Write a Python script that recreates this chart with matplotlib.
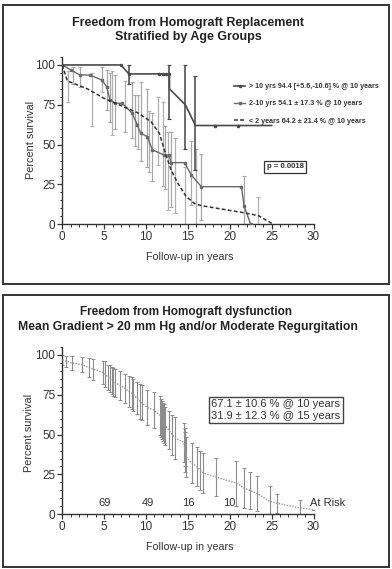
import numpy as np
import matplotlib
matplotlib.use("Agg")
import matplotlib.pyplot as plt
from matplotlib.patches import Rectangle
from matplotlib.ticker import MultipleLocator

plt.rcParams["font.family"] = ["Liberation Sans", "DejaVu Sans"]

# ---------- top panel: freedom from replacement by age group ----------
old_x = [0, 7.0, 7.95, 12.8, 12.8, 14.7, 15.9, 25.0]
old_y = [100, 100, 94.4, 94.4, 85, 75, 62, 62]
old_cens_x = [11.6, 12.0, 12.4, 18.2, 21.0]
old_cens_y = [94.4, 94.4, 94.4, 62, 62]
old_err_x = [7.95, 12.8, 14.7, 15.9]
old_err_lo = [88, 66, 47, 34]
old_err_hi = [100, 100, 100, 93]

mid_x = [0, 1.0, 2.1, 3.3, 4.7, 5.3, 5.7, 6.3, 7.15, 8.35, 8.96, 9.36, 10.16,
         10.76, 12.17, 12.77, 12.97, 14.6, 15.4, 16.6, 21.4, 21.7, 22.5]
mid_y = [100, 97, 93.7, 93.7, 90.6, 86.4, 78, 76, 76, 69.7, 62.3, 57.1, 55,
         46.7, 43.5, 43.5, 38.7, 38.7, 31, 23.6, 23.6, 11.7, 0]
mid_err_x = [1.3, 2.1, 4.7, 5.3, 5.7, 6.3, 8.35, 8.7, 9.36, 10.16, 10.76, 12.3,
             13.0, 15.4, 16.6, 21.7]
mid_err_lo = [88, 86, 83, 72, 64, 60, 54, 49, 40, 36, 27, 22, 11, 12, 3, 0]
mid_err_hi = [99, 99, 99, 97, 95, 94, 89.5, 81, 89.5, 85, 70, 62, 58, 52, 44, 30]

young_x = [0, 0.6, 3.0, 5.0, 7.0, 9.0, 10.6, 11.6, 12.2, 13.0, 13.8, 14.8,
           15.8, 16.6, 19.0, 21.4, 23.4, 25.2]
young_y = [100, 90, 85, 79, 74.5, 70, 64.4, 57, 46.6, 34, 25.7, 17.4, 13,
           11.7, 9.6, 7.5, 5.5, 0]
young_err_x = [0.7, 3.5, 5.9, 7.5, 9.0, 10.4, 11.4, 12.0, 12.6, 13.4, 14.6,
               16.0, 23.4]
young_err_lo = [77, 62, 56, 58, 47, 33, 37, 24, 9, 7, 0, 0, 0]
young_err_hi = [96, 95, 96, 90, 81, 71, 80, 77, 58, 54, 36, 47, 17]

legend_labels = ["> 10 yrs 94.4 [+5.6,-10.6] % @ 10 years",
                 "2-10 yrs 54.1 \u00b1 17.3 % @ 10 years",
                 "< 2 years 64.2 \u00b1 21.4 % @ 10 years"]
p_text = "p = 0.0018"

# ---------- bottom panel: freedom from dysfunction ----------
dys_x = [0, 0.5, 1.1, 2.3, 3.2, 3.7, 4.9, 5.1, 5.5, 5.7, 5.9, 6.1, 6.3, 6.9,
         7.5, 8.0, 8.3, 8.5, 8.9, 9.3, 9.5, 10.1, 10.9, 11.7, 11.8, 11.9, 12.0,
         12.1, 12.3, 12.7, 13.1, 13.5, 14.5, 14.6, 14.7, 14.8, 15.5, 16.1, 16.5,
         16.8, 18.3, 20.8, 21.7, 22.4, 23.3, 24.8, 25.6, 28.4, 30]
dys_y = [97, 96, 95, 94, 92, 91, 89, 88, 86, 85, 84, 83, 82.5, 81, 79, 77, 76,
         75, 73, 71, 70, 67.1, 65.5, 62, 60.5, 59, 58, 57, 55.5, 53, 50, 48, 45,
         42, 39, 36, 32, 30, 27.5, 26, 23.5, 19.5, 16.5, 15, 13, 8, 7, 4, 3]
dys_err = [3, 3.5, 4.5, 5, 6, 6.5, 7.5, 8, 8, 8.5, 8.5, 9, 9, 9, 9, 9.5, 10,
           10, 10, 11, 11, 11, 11.5, 12, 12, 12, 12, 12, 12, 12, 12.5, 13, 12,
           12, 12.5, 12.5, 12.5, 12.5, 12.5, 12.5, 12, 14, 12.5, 11.5, 11, 10,
           6, 5, 0]
risk_x = [5.0, 10.2, 15.0, 20.0]
risk_n = ["69", "49", "16", "10"]
box_text = "67.1 \u00b1 10.6 % @ 10 years\n31.9 \u00b1 12.3 % @ 15 years"

W, H = 392, 569
fig = plt.figure(figsize=(W / 100, H / 100), dpi=100)


def px_rect(x0, y0, x1, y1):
    return [x0 / W, 1 - y1 / H, (x1 - x0) / W, (y1 - y0) / H]


def style_axis(ax):
    for s in ["top", "right"]:
        ax.spines[s].set_visible(False)
    for s in ["left", "bottom"]:
        ax.spines[s].set_color("#333333")
        ax.spines[s].set_linewidth(1.0)
    ax.set_xlim(0, 30)
    ax.set_ylim(0, 105)
    ax.spines["left"].set_bounds(0, 105)
    ax.set_xticks(range(0, 31, 5))
    ax.set_yticks([0, 25, 50, 75, 100])
    ax.xaxis.set_minor_locator(MultipleLocator(1))
    ax.yaxis.set_minor_locator(MultipleLocator(5))
    ax.tick_params(which="major", length=3.5, width=0.9, labelsize=8.5,
                   colors="#333333", pad=1.5)
    ax.tick_params(which="minor", length=1.8, width=0.7, colors="#333333")
    ax.patch.set_alpha(0)


def bars(ax, x, lo, hi, color, lw=0.9):
    ax.vlines(x, lo, hi, color=color, lw=lw, zorder=2)
    ax.plot(x, lo, ls="none", marker="_", ms=3, mew=0.8, color=color, zorder=2)
    ax.plot(x, hi, ls="none", marker="_", ms=3, mew=0.8, color=color, zorder=2)


# panel frames
fig.patches.append(Rectangle((3 / W, 1 - 284 / H), 386 / W, 279 / H,
                             transform=fig.transFigure, fill=False,
                             ec="#333333", lw=1.4))
fig.patches.append(Rectangle((3 / W, 1 - 567 / H), 386 / W, 272 / H,
                             transform=fig.transFigure, fill=False,
                             ec="#333333", lw=1.4))

# ---------- top ----------
ax1 = fig.add_axes(px_rect(62.3, 57, 313.5, 224.3))
style_axis(ax1)
bars(ax1, young_err_x, young_err_lo, young_err_hi, "#b0b0b0")
bars(ax1, mid_err_x, mid_err_lo, mid_err_hi, "#a8a8a8")
bars(ax1, old_err_x, old_err_lo, old_err_hi, "#444444", lw=1.1)
l1, = ax1.plot(old_x, old_y, color="#4a4a4a", lw=1.2, zorder=4,
               marker="o", ms=1.5, markevery=[1, 2, 3])
ax1.plot(old_cens_x, old_cens_y, ls="none", marker="o", ms=1.6,
         color="#4a4a4a", zorder=4)
l2, = ax1.plot(mid_x, mid_y, color="#6a6a6a", lw=1.0, marker="s", ms=1.8,
               zorder=3)
l3, = ax1.plot(young_x, young_y, color="#333333", lw=1.1, ls=(0, (2.5, 1.5)),
               zorder=3)
leg = ax1.legend([l1, l2, l3], legend_labels, loc="center right",
                 bbox_to_anchor=(1.285, 0.72), frameon=False, handlelength=1.6,
                 handletextpad=0.5, labelspacing=1.45,
                 prop={"size": 5.1, "weight": "bold"})
for t in leg.get_texts():
    t.set_color("#333333")
ax1.text(26.6, 36, p_text, fontsize=5.6, fontweight="bold", color="#333333",
         ha="center", va="center",
         bbox=dict(boxstyle="square,pad=0.3", fc="white", ec="#333333", lw=0.9))
fig.text(188 / W, 1 - 30 / H, "Freedom from Homograft Replacement\nStratified by Age Groups",
         ha="center", va="center", fontsize=9, fontweight="bold",
         color="#222222", linespacing=1.2)
fig.text(31 / W, 1 - 140 / H, "Percent survival", rotation=90, ha="center",
         va="center", fontsize=7.8, color="#333333")
fig.text(190 / W, 1 - 257 / H, "Follow-up in years", ha="center", va="center",
         fontsize=7.7, color="#333333")

# ---------- bottom ----------
ax2 = fig.add_axes(px_rect(62.3, 347, 313.5, 514.3))
style_axis(ax2)
dys_y_arr = np.array(dys_y)
dys_err_arr = np.array(dys_err)
ax2.errorbar(dys_x, dys_y_arr, yerr=dys_err_arr, fmt="none", ecolor="#8c8c8c",
             elinewidth=0.8, capsize=1.5, capthick=0.7, zorder=2)
ax2.plot(dys_x, dys_y, color="#9a9a9a", lw=1.0, ls=(0, (1, 1)), zorder=3)
for x, n in zip(risk_x, risk_n):
    ax2.text(x, 7, n, ha="center", va="center", fontsize=8, color="#333333")
ax2.text(29.6, 7, "At Risk", ha="left", va="center", fontsize=8,
         color="#333333", clip_on=False)
ax2.text(17.8, 65.5, box_text, ha="left", va="center", fontsize=8,
         color="#333333", linespacing=1.15,
         bbox=dict(boxstyle="square,pad=0.25", fc="white", ec="#444444", lw=1.0))
fig.text(186 / W, 1 - 312 / H, "Freedom from Homograft dysfunction",
         ha="center", va="center", fontsize=8.5, fontweight="bold", color="#222222")
fig.text(188 / W, 1 - 327 / H, "Mean Gradient > 20 mm Hg and/or Moderate Regurgitation",
         ha="center", va="center", fontsize=8.8, fontweight="bold", color="#222222")
fig.text(29 / W, 1 - 433 / H, "Percent survival", rotation=90, ha="center",
         va="center", fontsize=7.8, color="#333333")
fig.text(190 / W, 1 - 547 / H, "Follow-up in years", ha="center", va="center",
         fontsize=7.7, color="#333333")

fig.savefig("out.png", dpi=100)
